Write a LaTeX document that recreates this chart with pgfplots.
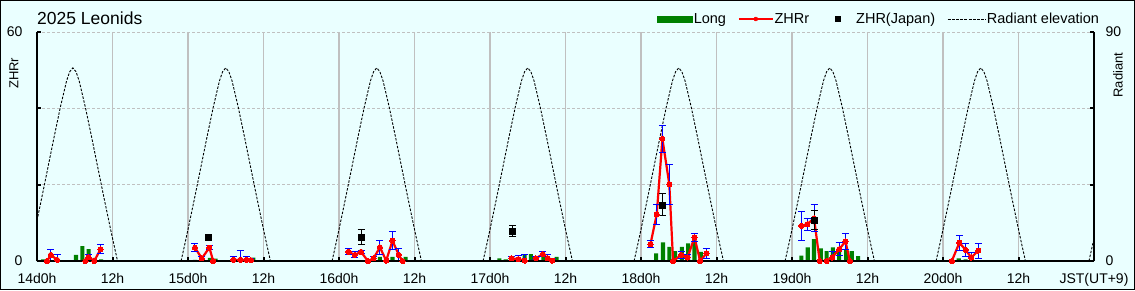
\documentclass[border=0pt]{standalone}
\usepackage{fontspec}
\setmainfont{Liberation Sans}
\usepackage{pgfplots}
\pgfplotsset{compat=1.18}
\usepackage{pgfplotstable}

\definecolor{bgc}{RGB}{234,255,255}
\definecolor{barg}{RGB}{0,128,0}
\definecolor{gridc}{RGB}{192,192,192}

\pgfplotstableread{
x y
1.0 0.4
3.0 0.4
6.2 1.6
7.2 3.9
8.2 3.1
9.2 0.8
10.2 0.4
25.1 0.3
26.2 0.3
27.5 0.8
28.4 0.6
34.4 0.9
54.5 1.1
56.5 1.1
58.6 1.1
73.5 0.7
74.5 0.4
77.5 1.6
78.5 1.8
79.4 1.3
80.5 1.0
82.6 1.1
98.4 2.0
99.5 4.9
100.5 3.7
101.4 2.6
102.5 3.7
103.5 4.6
104.5 5.4
105.5 2.4
121.5 1.4
122.5 3.6
123.5 5.7
124.6 3.3
125.5 2.6
126.5 3.6
127.5 2.4
128.6 2.9
129.5 2.6
130.5 1.3
146.5 0.7
147.6 0.4
}\longdata

\pgfplotstableread{
x y e
1.6 0 0
2.2 1.6 1.5
3.2 0.3 1.3
5 nan nan
7.7 0 0
8.2 1.0 0.8
9.1 0 0
10.1 3.1 1.2
12 nan nan
25.1 3.5 1.1
26.2 0.7 0.5
27.4 3.5 0.6
28.0 0 0
29 nan nan
31.2 0.3 0.9
32.3 0.3 2.4
33.3 0.3 1.0
34.0 0.2 0.5
40 nan nan
49.5 2.4 0.8
50.5 1.6 0.8
51.5 2.4 0.4
52.6 0 0
53.5 0.7 0.5
54.5 3.6 1.8
55.5 0.1 0
56.5 5.3 2.4
57.5 1.6 1.8
58.1 0 0
65 nan nan
75.4 0.7 0.5
76.5 0.5 0.9
77.5 0.1 1.6
78.3 nan nan
79.3 0.7 0.4
80.4 1.8 0.6
81.2 0.7 1.0
81.9 0.1 0.5
90 nan nan
97.5 4.4 0.9
98.5 12.2 2.6
99.4 32.0 3.6
100.5 20.1 5.3
101.1 0 0
102.4 1.6 0.9
103.4 0.9 0.7
104.5 6.2 1.0
105.4 0 0
106.4 2.0 1.3
110 nan nan
121.5 9.2 3.7
122.4 9.6 1.5
123.5 11.2 3.5
124.4 0 0
125.5 0 0
126.4 0.9 1.6
127.5 3.1 1.7
128.5 5.1 2.2
129.2 0 0
135 nan nan
145.4 0 0
146.6 4.8 2.0
147.6 2.9 1.8
148.5 0.9 1.3
149.6 2.7 2.0
}\zhrdata

\pgfplotstableread{
x y e
51.5 6.2 2.0
75.6 7.9 1.4
99.4 14.7 2.9
123.5 10.7 2.5
}\japdata

\pgfplotstableread{
x y
0 15.9
0.7 24.2
1.7 36.3
2.7 48.5
3.7 60.3
4.7 70.8
5.2 74.4
5.7 75.9
6.2 74.4
6.7 70.8
7.7 60.3
8.7 48.5
9.7 36.3
10.7 24.2
11.7 12.4
12.2 6.7
12.8 0
18 nan
22.9 0
23.5 6.7
24 12.4
25 24.2
26 36.3
27 48.5
28 60.3
29 70.8
29.5 74.4
30 75.9
30.5 74.4
31 70.8
32 60.3
33 48.5
34 36.3
35 24.2
36 12.4
36.5 6.7
37.1 0
42 nan
46.9 0
47.5 6.7
48 12.4
49 24.2
50 36.3
51 48.5
52 60.3
53 70.8
53.5 74.4
54 75.9
54.5 74.4
55 70.8
56 60.3
57 48.5
58 36.3
59 24.2
60 12.4
60.5 6.7
61.1 0
66 nan
70.9 0
71.5 6.7
72 12.4
73 24.2
74 36.3
75 48.5
76 60.3
77 70.8
77.5 74.4
78 75.9
78.5 74.4
79 70.8
80 60.3
81 48.5
82 36.3
83 24.2
84 12.4
84.5 6.7
85.1 0
90 nan
94.9 0
95.5 6.7
96 12.4
97 24.2
98 36.3
99 48.5
100 60.3
101 70.8
101.5 74.4
102 75.9
102.5 74.4
103 70.8
104 60.3
105 48.5
106 36.3
107 24.2
108 12.4
108.5 6.7
109.1 0
114 nan
118.9 0
119.5 6.7
120 12.4
121 24.2
122 36.3
123 48.5
124 60.3
125 70.8
125.5 74.4
126 75.9
126.5 74.4
127 70.8
128 60.3
129 48.5
130 36.3
131 24.2
132 12.4
132.5 6.7
133.1 0
138 nan
142.9 0
143.5 6.7
144 12.4
145 24.2
146 36.3
147 48.5
148 60.3
149 70.8
149.5 74.4
150 75.9
150.5 74.4
151 70.8
152 60.3
153 48.5
154 36.3
155 24.2
156 12.4
156.5 6.7
157.1 0
162 nan
167.2 0
167.8 6.7
168 8.9
}\raddata

\begin{document}
\begin{tikzpicture}[x=1pt,y=1pt]
\fill[bgc] (0,0) rectangle (1135,290);
\draw[black,line width=1pt] (0.5,0.5) rectangle (1134.5,289.5);

\begin{axis}[
  at={(37pt,29pt)}, anchor=south west, scale only axis,
  width=1057pt, height=229pt,
  xmin=0, xmax=168, ymin=0, ymax=90,
  axis x line*=bottom, axis y line*=right,
  axis line style={-, black, line width=2pt},
  xtick={0,12,...,168}, xticklabels={},
  xmajorgrids, major x grid style={gridc, line width=1.2pt},
  ytick={0,30,60,90}, yticklabels={0,,,90},
  ymajorgrids, major y grid style={gridc, dash pattern=on 3pt off 2pt, line width=0.9pt},
  extra y ticks={90}, extra y tick labels={},
  extra y tick style={grid=major, major grid style={gridc!85!black, solid, line width=1.5pt}},
  tick align=inside, major tick length=4pt, tick style={black, line width=2pt},
  yticklabel style={font=\fontsize{14}{16}\selectfont, anchor=west, xshift=8pt},
  /pgf/number format/assume math mode=true,
  ylabel={Radiant},
  ylabel style={font=\fontsize{13}{15}\selectfont, at={(axis description cs:1.0227,0.812)}, anchor=center},
]
\addplot[black, line width=0.9pt, dash pattern=on 2.5pt off 1.5pt, unbounded coords=jump] table[x=x,y=y] {\raddata};
\end{axis}

\begin{axis}[
  at={(37pt,29pt)}, anchor=south west, scale only axis,
  width=1057pt, height=229pt,
  xmin=0, xmax=168, ymin=0, ymax=60,
  axis x line*=bottom, axis y line*=left,
  axis line style={-, black, line width=2pt},
  axis on top,
  xtick={0,12,...,168},
  xticklabels={14d0h,12h,15d0h,12h,16d0h,12h,17d0h,12h,18d0h,12h,19d0h,12h,20d0h,12h,JST(UT+9)},
  ytick={0,20,40,60}, yticklabels={0,,,60},
  tick align=inside, major tick length=4pt, tick style={black, line width=2pt},
  ticklabel style={font=\fontsize{14}{16}\selectfont},
  xticklabel style={yshift=-9pt},
  yticklabel style={xshift=-11pt},
  /pgf/number format/assume math mode=true,
  ylabel={ZHRr},
  ylabel style={font=\fontsize{13}{15}\selectfont, at={(axis description cs:-0.0218,0.82)}, anchor=center},
  title={2025 Leonids},
  title style={font=\fontsize{17.5}{20}\selectfont, at={(axis description cs:0,1)}, anchor=base west, yshift=2pt, inner sep=0pt},
  legend columns=4,
  legend cell align=left,
  legend style={at={(axis description cs:1,1)}, anchor=south east, xshift=6pt, yshift=7pt,
    draw=none, fill=none, inner sep=0pt, outer sep=0pt,
    font=\fontsize{14.5}{16}\selectfont,
    nodes={inner xsep=1pt, inner ysep=0pt},
    /tikz/every even column/.append style={column sep=11pt}},
]
\addplot[ybar, bar width=0.65, bar shift=0pt, fill=barg, draw=none, forget plot] table[x=x,y=y] {\longdata};

\addplot[red, line width=2.2pt, mark=*, mark size=2.6pt, mark options={solid, fill=red, line width=0pt},
  unbounded coords=jump, forget plot,
  error bars/.cd, y dir=both, y explicit,
  error bar style={blue, line width=1pt},
  error mark options={rotate=90, blue, mark size=3.5pt, line width=1pt}]
  table[x=x, y=y, y error=e] {\zhrdata};

\addplot[black, only marks, mark=square*, mark size=3pt, forget plot,
  error bars/.cd, y dir=both, y explicit,
  error bar style={black, line width=1pt},
  error mark options={rotate=90, black, mark size=3.5pt, line width=1pt}]
  table[x=x, y=y, y error=e] {\japdata};
\addplot[black, only marks, mark=square*, mark size=3pt, forget plot] coordinates {(27.2,6.2)};

\addlegendimage{legend image code/.code={\fill[barg] (0pt,-3pt) rectangle (35pt,3pt);}}
\addlegendentry{Long}
\addlegendimage{legend image code/.code={\draw[red, line width=1.5pt] (0pt,0pt) -- (34pt,0pt); \fill[red] (17pt,0pt) circle (2pt);}}
\addlegendentry{ZHRr}
\addlegendimage{legend image code/.code={\path[draw=none, fill=none] (0pt,-1pt) rectangle (34pt,1pt); \fill[black] (14.5pt,-2.5pt) rectangle (19.5pt,2.5pt);}}
\addlegendentry{ZHR(Japan)}
\addlegendimage{legend image code/.code={\draw[black, line width=0.8pt, dash pattern=on 3pt off 1.2pt] (0pt,0pt) -- (38pt,0pt);}}
\addlegendentry{Radiant elevation}
\end{axis}
\pgfresetboundingbox
\useasboundingbox (0,0) rectangle (1135,290);
\end{tikzpicture}
\end{document}
